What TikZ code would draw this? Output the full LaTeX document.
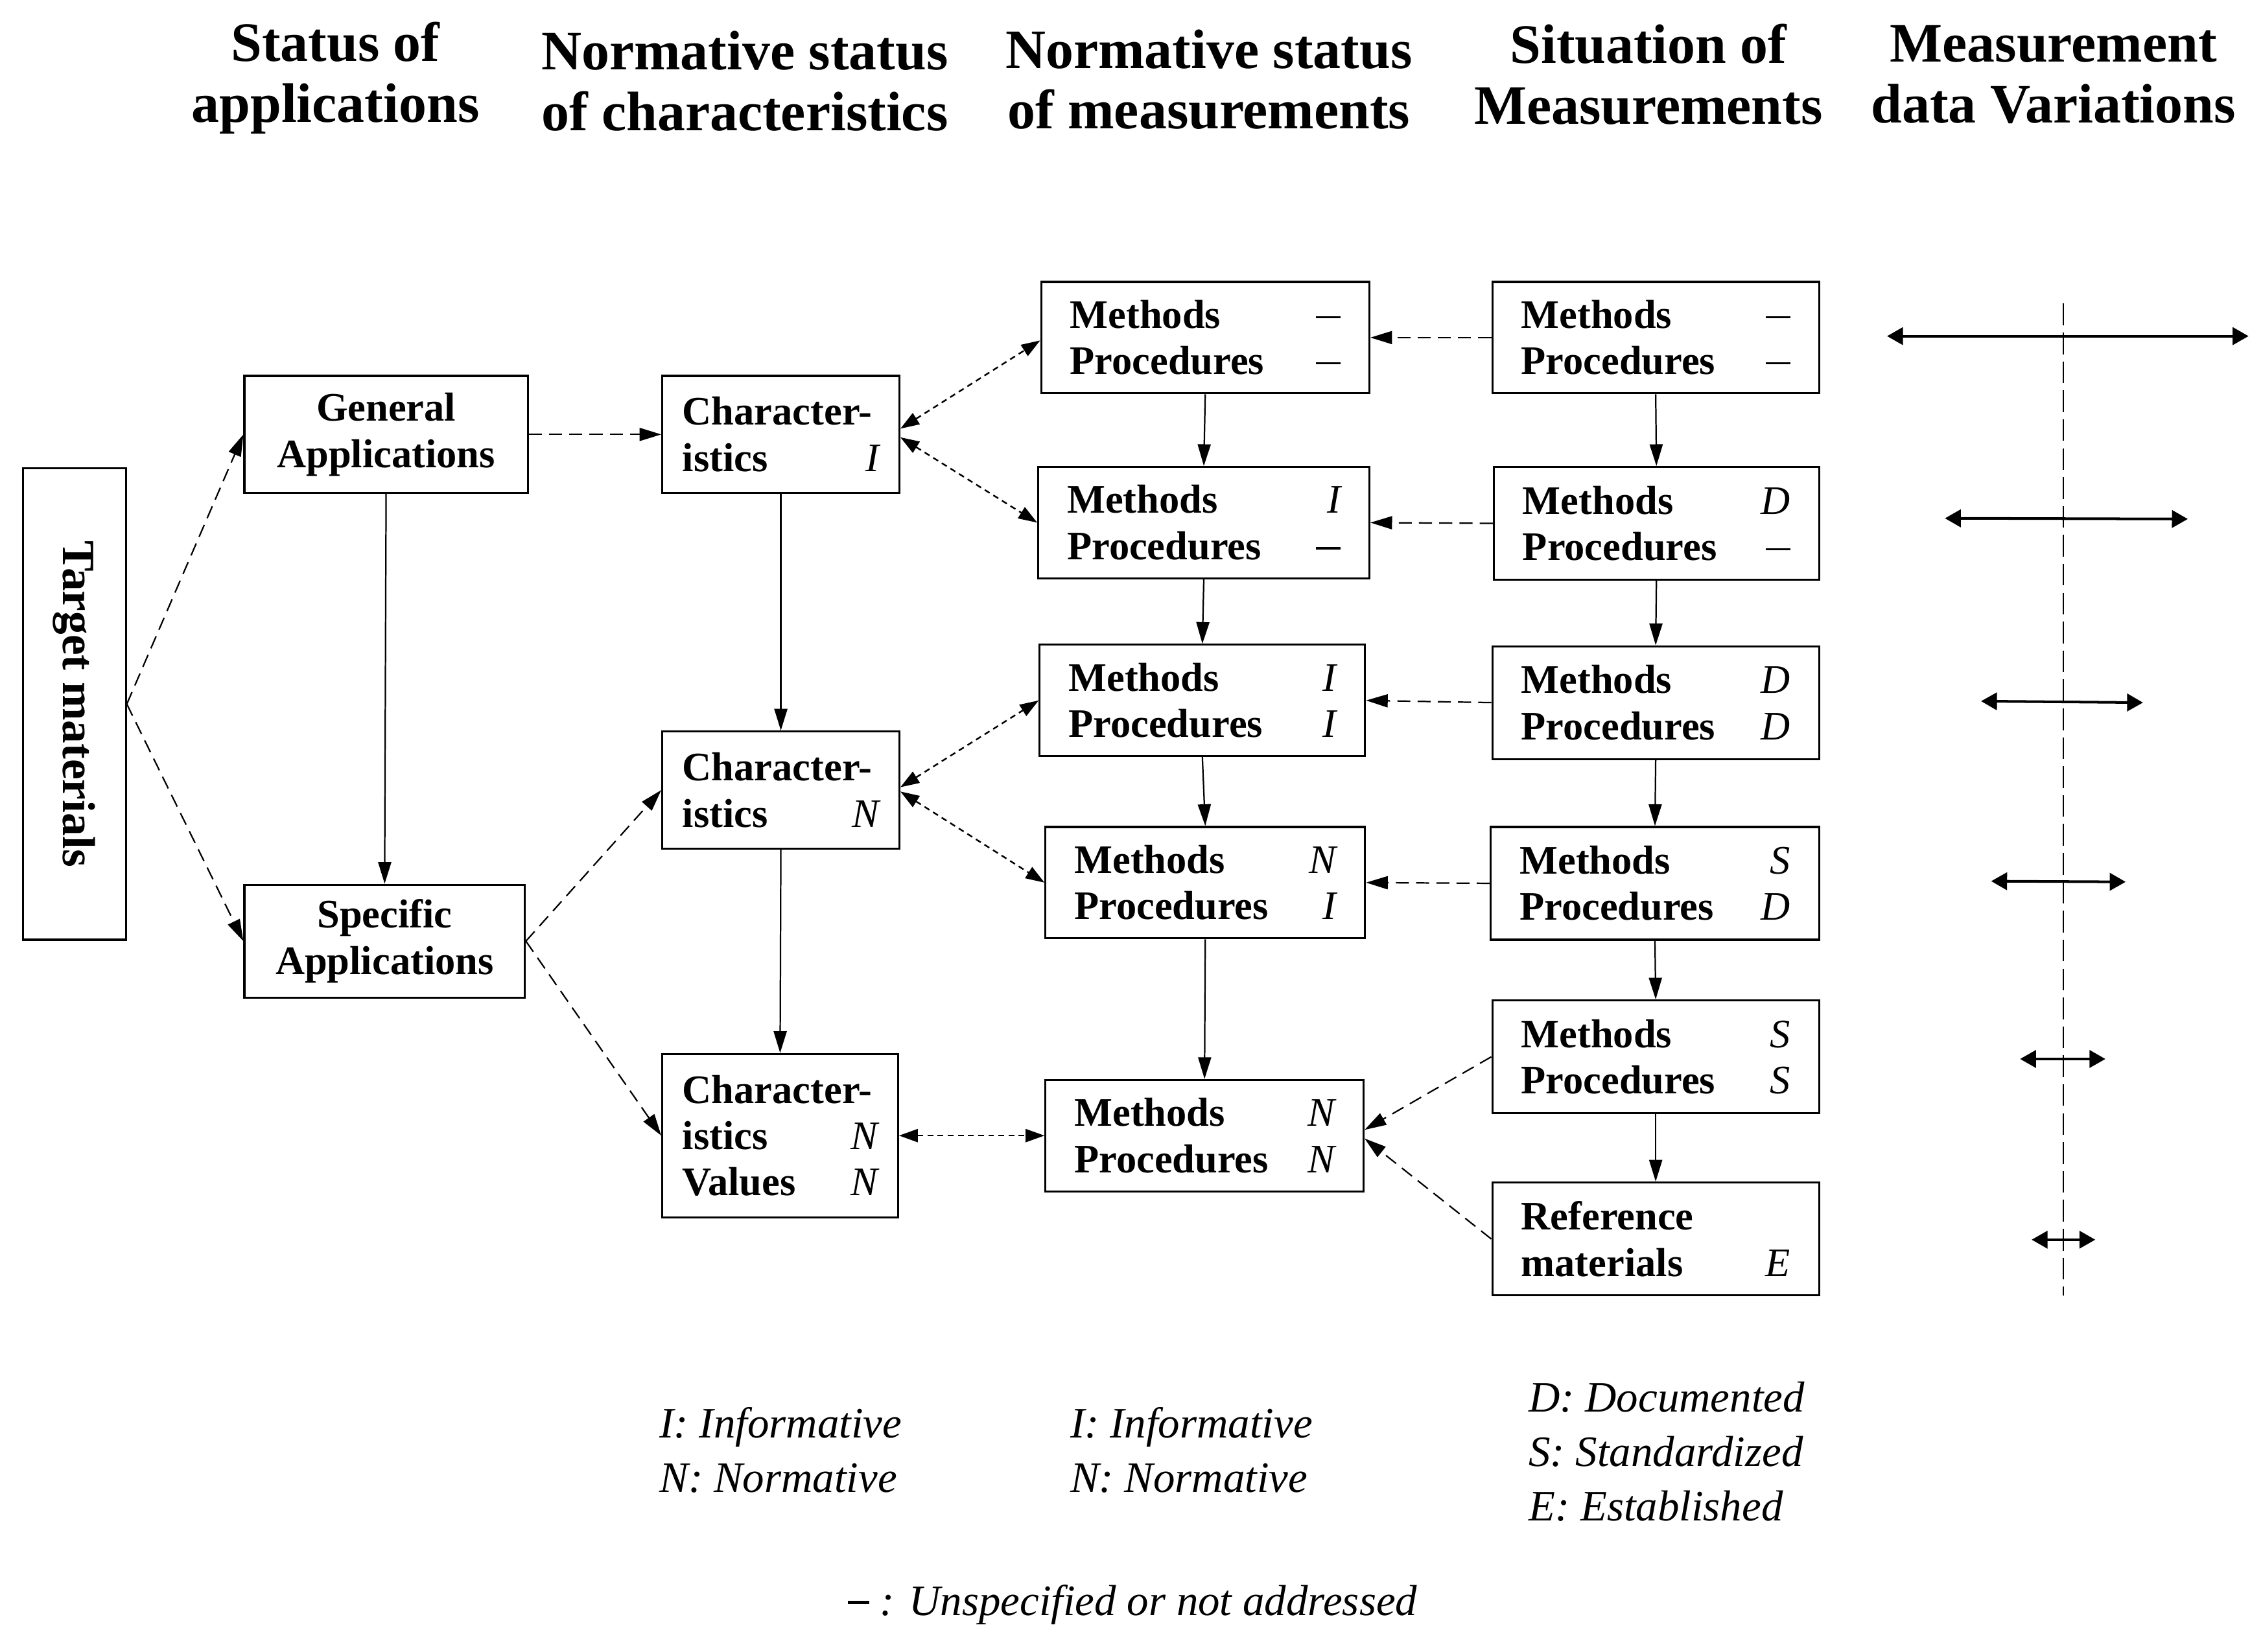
\documentclass[tikz,border=0pt]{standalone}
\usepackage{fontspec}
\setmainfont{Liberation Serif}
\usetikzlibrary{arrows.meta}
\newcommand\mycode[1]{{\normalfont\itshape #1}}
\newcommand\mydash{\rule[7pt]{17pt}{1.5pt}}
\begin{document}
\begin{tikzpicture}[x=1pt,y=-1pt,
  box/.style={draw,line width=1.4pt,inner sep=0pt,align=center,font=\fontsize{28}{32}\selectfont\bfseries},
  twobox/.style={box,align=left},
  hdr/.style={align=center,font=\fontsize{38.5}{42}\selectfont\bfseries},
  leg/.style={align=left,anchor=west,inner sep=0pt,font=\fontsize{30}{38}\selectfont\itshape},
  arr/.style={line width=1pt,-{Triangle[length=15pt,width=9pt]}},
  dsh/.style={arr,dash pattern=on 9pt off 5pt},
  dotarr/.style={line width=1.1pt,dash pattern=on 4pt off 3pt,{Triangle[length=13pt,width=9pt]}-{Triangle[length=13pt,width=9pt]}},
  var/.style={line width=1.8pt,{Triangle[length=11pt,width=12pt]}-{Triangle[length=11pt,width=12pt]}}
]
\useasboundingbox (0,0) rectangle (1565,1142.7);

% headers
\node[hdr] (h1) at (232,54) {Status of\\applications};
\node[hdr] (h2) at (515,56) {Normative status\\of characteristics};
\node[hdr] (h3) at (836,55) {Normative status\\of measurements};
\node[hdr] (h4) at (1140,51.5) {Situation of\\Measurements};
\node[hdr] (h5) at (1420,51.5) {Measurement\\data Variations};

% column 1
\node[box,rotate=-90,minimum width=326pt,minimum height=71pt,font=\fontsize{32}{34}\selectfont\bfseries] (tm) at (51.5,487) {Target materials};
% column 2
\node[box,minimum width=196pt,minimum height=81pt] (ga) at (267,300.5) {General\\Applications};
\node[box,minimum width=194pt,minimum height=78pt] (sa) at (266,651) {Specific\\Applications};
% column 3
\node[twobox,minimum width=164pt,minimum height=81pt,text width=136pt] (c1) at (540,300.5) {Character-\\istics\hfill\mycode{I}\hspace*{4pt}};
\node[twobox,minimum width=164pt,minimum height=81pt,text width=136pt] (c2) at (540,546.5) {Character-\\istics\hfill\mycode{N}\hspace*{4pt}};
\node[twobox,minimum width=163pt,minimum height=113pt,text width=135pt] (c3) at (539.5,785.5) {Character-\\istics\hfill\mycode{N}\hspace*{4pt}\\Values\hfill\mycode{N}\hspace*{4pt}};
% column 4
\node[twobox,minimum width=227pt,minimum height=77pt,text width=187pt] (m1) at (833.5,233.5) {Methods\hfill\mydash\\Procedures\hfill\mydash};
\node[twobox,minimum width=229pt,minimum height=77pt,text width=189pt] (m2) at (832.5,361.5) {Methods\hfill\mycode{I}\\Procedures\hfill\mydash};
\node[twobox,minimum width=225pt,minimum height=77pt,text width=185pt] (m3) at (831.5,484.5) {Methods\hfill\mycode{I}\\Procedures\hfill\mycode{I}};
\node[twobox,minimum width=221pt,minimum height=77pt,text width=181pt] (m4) at (833.5,610.5) {Methods\hfill\mycode{N}\\Procedures\hfill\mycode{I}};
\node[twobox,minimum width=220pt,minimum height=77pt,text width=180pt] (m5) at (833,785.5) {Methods\hfill\mycode{N}\\Procedures\hfill\mycode{N}};
% column 5
\node[twobox,minimum width=226pt,minimum height=77pt,text width=186pt] (s1) at (1145,233.5) {Methods\hfill\mydash\\Procedures\hfill\mydash};
\node[twobox,minimum width=225pt,minimum height=78pt,text width=185pt] (s2) at (1145.5,362) {Methods\hfill\mycode{D}\\Procedures\hfill\mydash};
\node[twobox,minimum width=226pt,minimum height=78pt,text width=186pt] (s3) at (1145,486) {Methods\hfill\mycode{D}\\Procedures\hfill\mycode{D}};
\node[twobox,minimum width=227pt,minimum height=78pt,text width=187pt] (s4) at (1144.5,611) {Methods\hfill\mycode{S}\\Procedures\hfill\mycode{D}};
\node[twobox,minimum width=226pt,minimum height=78pt,text width=186pt] (s5) at (1145,731) {Methods\hfill\mycode{S}\\Procedures\hfill\mycode{S}};
\node[twobox,minimum width=226pt,minimum height=78pt,text width=186pt] (s6) at (1145,857) {Reference\\materials\hfill\mycode{E}};

% connectors
\draw[dsh] (tm.north) -- (ga.west);
\draw[dsh] (tm.north) -- (sa.west);
\draw[arr] (ga.south) -- (sa.north);
\draw[dsh] (ga.east) -- (c1.west);
\draw[dsh] (sa.east) -- (c2.west);
\draw[dsh] (sa.east) -- (c3.west);
\draw[arr] (c1.south) -- (c2.north);
\draw[arr] (c2.south) -- (c3.north);

\draw[dotarr] ([yshift=4pt]c1.east) -- ([yshift=-2pt]m1.west);
\draw[dotarr] ([yshift=-2pt]c1.east) -- (m2.west);
\draw[dotarr] ([yshift=2pt]c2.east) -- (m3.west);
\draw[dotarr] ([yshift=-1pt]c2.east) -- (m4.west);
\draw[dotarr] (c3.east) -- (m5.west);

\draw[arr] (m1.south) -- (m2.north);
\draw[arr] (m2.south) -- (m3.north);
\draw[arr] (m3.south) -- (m4.north);
\draw[arr] (m4.south) -- (m5.north);

\draw[arr] (s1.south) -- (s2.north);
\draw[arr] (s2.south) -- (s3.north);
\draw[arr] (s3.south) -- (s4.north);
\draw[arr] (s4.south) -- (s5.north);
\draw[arr] (s5.south) -- (s6.north);

\draw[dsh] (s1.west) -- (m1.east);
\draw[dsh] (s2.west) -- (m2.east);
\draw[dsh] (s3.west) -- (m3.east);
\draw[dsh] (s4.west) -- (m4.east);
\draw[dsh] (s5.west) -- ([yshift=4pt]m5.east);
\draw[dsh] (s6.west) -- ([yshift=-2pt]m5.east);

% variations
\draw[line width=1pt,dash pattern=on 15pt off 5pt] (1427,210) -- (1427,896);
\draw[var] (1305,232.5) -- (1555,232.5);
\draw[var] (1345,358.5) -- (1513,359);
\draw[var] (1370,485) -- (1482,486);
\draw[var] (1377,609.5) -- (1470,610);
\draw[var] (1397,732.5) -- (1456,732.5);
\draw[var] (1405,857.5) -- (1449,857.5);

% legends
\node[leg] (l1) at (456,1003) {I: Informative\\N: Normative};
\node[leg] (l2) at (740,1003) {I: Informative\\N: Normative};
\node[leg,font=\fontsize{30}{37.5}\selectfont\itshape] (l3) at (1057,1004) {D: Documented\\S: Standardized\\E: Established};
\node[leg] (l4) at (586,1110) {\upshape\rule[8pt]{15pt}{2pt}\itshape\ : Unspecified or not addressed};
\end{tikzpicture}
\end{document}
